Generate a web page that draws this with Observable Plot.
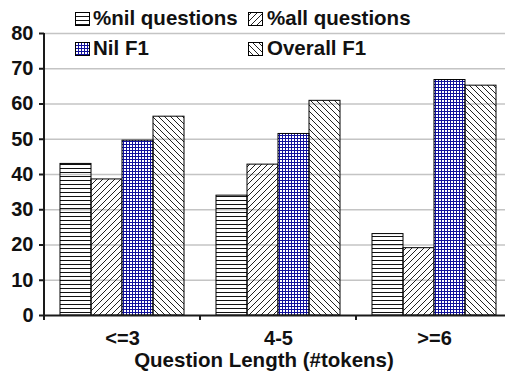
<!DOCTYPE html>
<html>
<head>
<meta charset="utf-8">
<script src="https://cdn.jsdelivr.net/npm/d3@7"></script>
<script src="https://cdn.jsdelivr.net/npm/@observablehq/plot@0.6"></script>
<style>
  html, body { margin: 0; padding: 0; background: white; overflow: hidden; }
  #chart { width: 505px; height: 376px; }
</style>
</head>
<body>
<div id="chart"></div>
<script>
// Question-length buckets and the four measured series (percent)
const groups = ["<=3", "4-5", ">=6"];
const series = ["%nil questions", "%all questions", "Nil F1", "Overall F1"];
const nilQuestions = [43.0, 34.0, 23.1];
const allQuestions = [38.6, 42.8, 19.1];
const nilF1 = [49.6, 51.5, 66.8];
const overallF1 = [56.4, 60.9, 65.2];
const yTicks = [0, 10, 20, 30, 40, 50, 60, 70, 80];
const xTitle = "Question Length (#tokens)";

const seriesValues = [nilQuestions, allQuestions, nilF1, overallF1];
const rows = groups.flatMap((g, i) =>
  series.map((s, j) => ({group: g, series: s, value: seriesValues[j][i]}))
);

// fill patterns, one per series
const patternIds = ["hatch-h", "hatch-fwd", "grid-blue", "hatch-back"];
const font = "'Liberation Sans', Arial, sans-serif";

const plot = Plot.plot({
  width: 505,
  height: 376,
  marginTop: 33,
  marginBottom: 61,
  marginLeft: 44,
  marginRight: 0,
  style: {
    fontFamily: font,
    fontWeight: "bold",
    fontSize: "20px",
    color: "#111",
    background: "white",
    overflow: "visible"
  },
  fx: {domain: groups, range: [44, 512], padding: 0, label: null},
  x: {domain: series, paddingInner: 0, paddingOuter: 0.5, axis: null},
  y: {domain: [0, 80], label: null},
  color: {type: "ordinal", domain: series, range: patternIds.map(id => `url(#${id})`)},
  marks: [
    Plot.gridY({ticks: yTicks.slice(1), stroke: "#c4c4c4", strokeOpacity: 1, strokeWidth: 1.5}),
    Plot.barY(rows, {fx: "group", x: "series", y: "value", fill: "series", stroke: "#000", strokeWidth: 1}),
    Plot.ruleY([0], {stroke: "#1a1a1a", strokeWidth: 2}),
    Plot.axisY({ticks: yTicks, tickSize: 5, tickPadding: 6, label: null, stroke: "#1a1a1a", strokeWidth: 2, fontSize: 20}),
    Plot.axisFx({anchor: "bottom", tickSize: 0, tickPadding: 15, label: null, fontSize: 20})
  ]
});

document.getElementById("chart").appendChild(plot);

const svg = d3.select(plot);
const fx = plot.scale("fx");
const y = plot.scale("y");
const y0 = y.apply(0);
const yTop = y.apply(80);
const left = fx.range[0];

// pattern definitions
const defs = svg.insert("defs", ":first-child");
const pat = (id, w, h) => defs.append("pattern")
  .attr("id", id).attr("patternUnits", "userSpaceOnUse")
  .attr("width", w).attr("height", h);

pat("hatch-h", 4, 4).append("path")
  .attr("d", "M0,0.5H4").attr("stroke", "#111").attr("stroke-width", 1);
pat("hatch-fwd", 6, 6).append("path")
  .attr("d", "M-1,1L1,-1M0,6L6,0M5,7L7,5").attr("stroke", "#222").attr("stroke-width", 1).attr("fill", "none");
const gb = pat("grid-blue", 3, 3);
gb.append("rect").attr("width", 3).attr("height", 3).attr("fill", "#ffffff");
gb.append("rect").attr("width", 3).attr("height", 1).attr("fill", "#10109c");
gb.append("rect").attr("width", 1).attr("height", 3).attr("fill", "#10109c");
pat("hatch-back", 6, 6).append("path")
  .attr("d", "M-1,5L1,7M0,0L6,6M5,-1L7,1").attr("stroke", "#222").attr("stroke-width", 1).attr("fill", "none");

// vertical axis line and category boundary ticks
const ax = svg.append("g").attr("stroke", "#1a1a1a").attr("stroke-width", 2);
ax.append("line").attr("x1", left).attr("x2", left).attr("y1", yTop).attr("y2", y0 + 5);
const bounds = groups.map(g => fx.apply(g)).concat([fx.apply(groups[groups.length - 1]) + fx.bandwidth]);
bounds.forEach(bx => {
  ax.append("line").attr("x1", bx).attr("x2", bx).attr("y1", y0).attr("y2", y0 + 5);
});

// horizontal axis title
svg.append("text")
  .attr("x", 264).attr("y", 367)
  .attr("text-anchor", "middle")
  .attr("font-family", font).attr("font-weight", "bold").attr("font-size", 20.5)
  .attr("fill", "#111")
  .text(xTitle);

// legend: two columns, two rows
const legendPos = [
  {sx: 75, tx: 93, row: 0},
  {sx: 248, tx: 267, row: 0},
  {sx: 75, tx: 93, row: 1},
  {sx: 248, tx: 267, row: 1}
];
const legend = svg.append("g").attr("text-anchor", "start");
series.forEach((s, i) => {
  const p = legendPos[i];
  const base = p.row === 0 ? 25 : 55;
  legend.append("rect")
    .attr("x", p.sx + 0.5).attr("y", base - 13 + 0.5)
    .attr("width", 14).attr("height", 13)
    .attr("fill", `url(#${patternIds[i]})`)
    .attr("stroke", "#000").attr("stroke-width", 1);
  legend.append("text")
    .attr("x", p.tx).attr("y", base)
    .attr("text-anchor", "start")
    .attr("font-family", font).attr("font-weight", "bold").attr("font-size", 20.5)
    .attr("fill", "#111")
    .text(s);
});
</script>
</body>
</html>
